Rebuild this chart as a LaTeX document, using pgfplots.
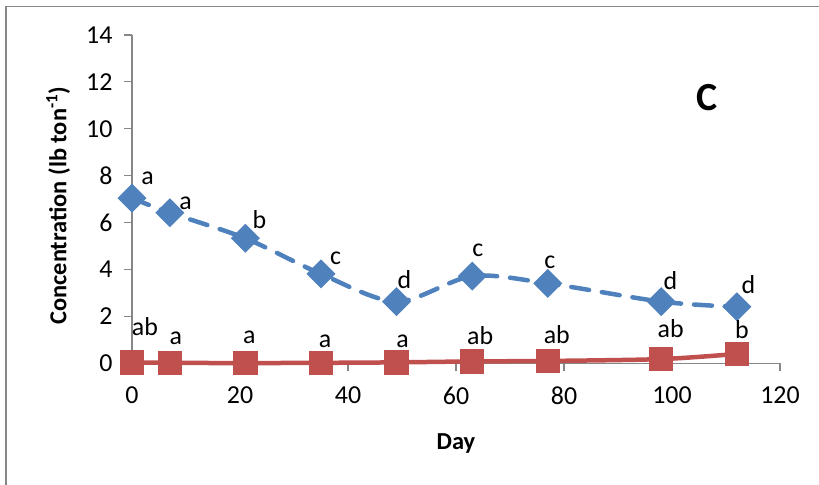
\documentclass[border=0pt]{standalone}
\usepackage{pgfplots}
\pgfplotsset{compat=1.18}
\usepackage{fontspec}
\setmainfont{Carlito}
\definecolor{bl}{HTML}{4F81BD}
\definecolor{rd}{HTML}{C0504D}
\definecolor{ax}{HTML}{878787}
\begin{document}
\begin{tikzpicture}[x=1bp,y=1bp]
\path[use as bounding box] (0,0) rectangle (819,-485);
\draw[ax, line width=1.2bp] (6,-485) -- (6,-6.7) -- (819,-6.7);
\begin{axis}[
  at={(132bp,-363.3bp)}, anchor=south west,
  scale only axis, width=648bp, height=328.3bp,
  xmin=0, xmax=120, ymin=0, ymax=14,
  xtick={0,20,...,120}, ytick={0,2,...,14},
  axis x line*=bottom, axis y line*=left,
  axis line style={ax, line width=1.2bp, -},
  tick style={ax, line width=1.2bp},
  tick align=outside, major tick length=8bp,
  ticklabel style={font=\fontsize{26}{30}\selectfont, black},
  /pgf/number format/assume math mode=true,
  xticklabel style={yshift=-12bp},
  yticklabel style={xshift=-8bp},
  xlabel={Day},
  ylabel={Concentration (lb ton\textsuperscript{-1})},
  label style={font=\fontsize{24.5}{28}\selectfont\bfseries},
  xlabel style={at={(axis description cs:0.5,-0.245)}, anchor=center},
  ylabel style={at={(axis description cs:-0.114,0.48)}, anchor=center},
  clip=false,
  nodes near coords,
  point meta=explicit symbolic,
  visualization depends on={\thisrow{dx} \as \dx},
  visualization depends on={\thisrow{dy} \as \dy},
  every node near coord/.append style={anchor=base, xshift=\dx bp, yshift=\dy bp,
     font=\fontsize{26}{30}\selectfont, black, inner sep=0pt},
]
\addplot[bl, line width=4.5bp, dash pattern=on 18bp off 13bp, line cap=round, smooth,
  mark=square*, mark size=8bp, mark options={solid, rotate=45, fill=bl, draw=bl}]
  table[x=x, y=y, meta=lab] {
x y lab dx dy
0 7.04 a 15.6 13.3
7 6.42 a 15.7 3.7
21 5.33 b 14 10
35 3.81 c 14.7 9
49 2.63 d 7.7 13.4
63 3.72 c 5.7 19.3
77 3.41 c 2 15
98 2.63 d 9.3 12.4
112 2.41 d 11.7 13.4
};
\addplot[rd, line width=4.5bp, smooth,
  mark=square*, mark size=10bp, mark options={solid, fill=rd, draw=rd}]
  table[x=x, y=y, meta=lab] {
x y lab dx dy
0 0.04 ab 13 27
7 0.02 a 6 18
21 0.01 a 4 20
35 0.02 a 4 15.6
49 0.04 a 6 15
63 0.08 ab 8 17
77 0.10 ab 9 17
98 0.18 ab 9.5 22
112 0.40 b 5 15.7
};
\end{axis}
\node[font=\fontsize{40}{48}\selectfont\bfseries, inner sep=0pt] at (707,-98) {C};
\end{tikzpicture}
\end{document}
